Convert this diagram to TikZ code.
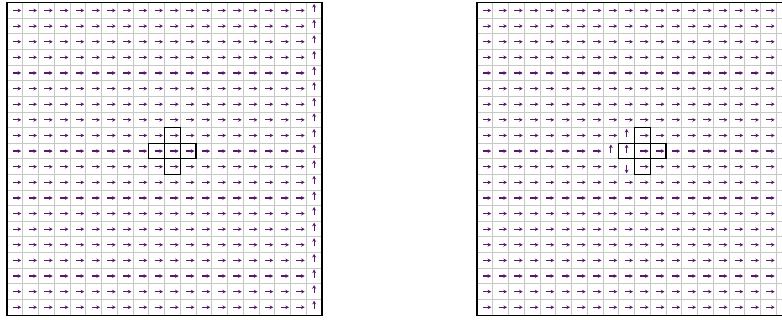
\documentclass[tikz,border=0pt]{standalone}
\usepackage{tikz}
\usetikzlibrary{arrows.meta}
\definecolor{vecpurple}{RGB}{88,24,105}

\begin{document}
\begin{tikzpicture}[>=Stealth,
  cellgrid/.style={draw=black!22, line width=1pt},
  border/.style={draw=black, line width=1.1pt},
  cross/.style={draw=black, line width=1.1pt},
  vec/.style={vecpurple, line width=1.2pt,
    -{Stealth[length=3.6pt, width=3.8pt]}},
  cell/.style={x=15.75pt, y=-15.62pt}]
  \useasboundingbox (0,0) rectangle (782pt,-320pt);
  \clip (0,0) rectangle (782pt,-320pt);
  % left field
  \begin{scope}[shift={(7pt,-2.7pt)}, cell]
    \foreach \k in {1,...,19} {
      \draw[cellgrid] (\k,0) -- (\k,20);
      \draw[cellgrid] (0,\k) -- (20,\k);
    }
    \foreach \i in {0,...,18}
      \foreach \j in {0,...,19}
        \draw[vec] (\i+0.38,\j+0.5) -- ++(0.52,0);
    \foreach \j in {0,...,19}
      \draw[vec] (19.5,\j+0.6) -- ++(0,-0.52);
    \draw[border] (0,0) rectangle (20,20);
    \draw[cross] (10,8) rectangle (11,11) (9,9) rectangle (12,10);
  \end{scope}
  % right field
  \begin{scope}[shift={(477pt,-2.7pt)}, cell]
    \foreach \k in {1,...,19} {
      \draw[cellgrid] (\k,0) -- (\k,20);
      \draw[cellgrid] (0,\k) -- (20,\k);
    }
    \foreach \i in {0,...,19}
      \foreach \j in {0,...,19} {
        \pgfmathtruncatemacro\isturned{(\i==9 && \j>7 && \j<11) || (\i==8 && \j==9)}
        \ifnum\isturned=0
          \draw[vec] (\i+0.38,\j+0.5) -- ++(0.52,0);
        \fi
      }
    \draw[vec] (9.5,8.6) -- ++(0,-0.52);
    \draw[vec] (9.5,9.6) -- ++(0,-0.52);
    \draw[vec] (8.5,9.6) -- ++(0,-0.52);
    \draw[vec] (9.5,10.4) -- ++(0,0.52);
    \draw[border] (0,0) rectangle (20,20);
    \draw[cross] (10,8) rectangle (11,11) (9,9) rectangle (12,10);
  \end{scope}
\end{tikzpicture}
\end{document}
